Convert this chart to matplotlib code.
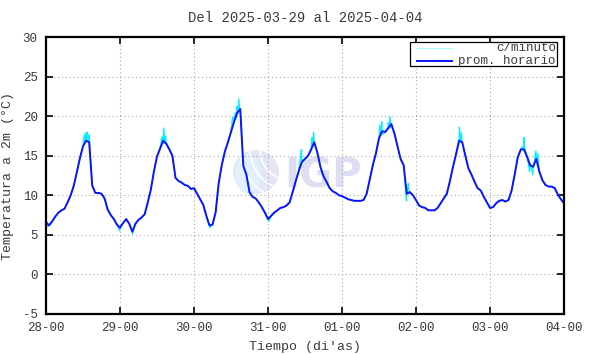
import numpy as np
import matplotlib
matplotlib.use("Agg")
import matplotlib.pyplot as plt
from matplotlib.patches import Rectangle, Ellipse, Arc

# ---------------- data ----------------
title = "Del 2025-03-29 al 2025-04-04"
xtick_labels = ["28-00", "29-00", "30-00", "31-00", "01-00", "02-00", "03-00", "04-00"]
ytick_values = [-5, 0, 5, 10, 15, 20, 25, 30]

# hourly mean temperature (°C), one list per day (hours 00..23)
day_28 = [6.6, 6.2, 6.7, 7.3, 7.8, 8.1, 8.3, 9.1, 10.0, 11.2, 12.9, 14.7,
          16.2, 16.9, 16.7, 11.2, 10.3, 10.3, 10.2, 9.6, 8.2, 7.5, 7.0, 6.3]
day_29 = [5.9, 6.5, 7.0, 6.4, 5.4, 6.4, 6.9, 7.2, 7.6, 9.1, 10.7, 13.0,
          14.9, 15.9, 16.9, 16.5, 15.8, 15.0, 12.2, 11.8, 11.6, 11.3, 11.2, 10.8]
day_30 = [10.9, 10.2, 9.5, 8.8, 7.4, 6.2, 6.3, 7.8, 11.5, 13.8, 15.5, 16.7,
          18.0, 19.3, 20.4, 20.9, 13.7, 12.6, 10.4, 9.8, 9.6, 9.1, 8.5, 7.8]
day_31 = [7.0, 7.4, 7.8, 8.1, 8.4, 8.5, 8.7, 9.1, 10.4, 11.8, 13.1, 14.2,
          14.6, 15.0, 15.8, 16.7, 15.4, 13.6, 12.4, 11.7, 10.9, 10.5, 10.3, 10.0]
day_01 = [9.9, 9.7, 9.5, 9.4, 9.3, 9.3, 9.3, 9.4, 10.2, 12.0, 13.8, 15.3,
          17.2, 18.1, 18.0, 18.5, 19.0, 17.8, 16.2, 14.6, 13.8, 10.2, 10.4, 10.0]
day_02 = [9.4, 8.7, 8.5, 8.4, 8.1, 8.1, 8.1, 8.4, 9.0, 9.6, 10.2, 11.8,
          13.6, 15.2, 16.9, 16.7, 15.0, 13.4, 12.6, 11.7, 10.9, 10.6, 9.8, 9.1]
day_03 = [8.4, 8.5, 9.0, 9.3, 9.4, 9.2, 9.4, 10.6, 12.6, 14.8, 15.8, 15.8,
          14.9, 13.8, 13.6, 14.6, 13.0, 11.9, 11.3, 11.1, 11.1, 10.9, 10.1, 9.5]
end_value = [9.0]  # 04-00

# per-minute excursions visible around the hourly curve (hour, °C)
spike_hours = [0.1, 0.3, 12.4, 12.6, 12.9, 13.1, 13.4, 13.7, 14.0, 23.9, 28.0,
               37.6, 37.9, 38.2, 38.5, 38.8, 39.1, 53.2, 60.5, 61.3, 61.6, 61.9,
               62.2, 62.5, 62.8, 72.3, 82.8, 83.1, 86.2, 86.5, 86.8, 87.1,
               108.3, 108.6, 108.9, 109.2, 111.0, 111.3, 111.6, 111.9,
               116.9, 117.2, 117.5, 117.8, 133.8, 134.1, 134.4, 134.7, 135.0,
               154.7, 155.0, 155.3, 156.5, 156.8, 157.1, 157.9, 158.2,
               158.9, 159.2, 159.5]
spike_values = [6.9, 6.0, 17.6, 16.4, 17.9, 16.8, 18.0, 16.9, 17.6, 5.5, 5.1,
                17.4, 16.5, 18.5, 16.9, 17.5, 16.6, 5.9, 19.9, 20.4, 19.6, 21.2,
                20.3, 22.2, 20.8, 6.7, 15.8, 14.4, 17.3, 16.4, 18.0, 16.5,
                18.9, 17.6, 19.3, 17.7, 19.2, 18.4, 19.9, 18.6,
                9.3, 10.6, 11.5, 10.2, 17.0, 18.6, 16.8, 17.9, 16.6,
                16.2, 17.3, 15.9, 13.9, 13.0, 14.0, 12.6, 13.8,
                15.6, 14.4, 15.3]

# ---------------- build series ----------------
hourly = np.array(day_28 + day_29 + day_30 + day_31 + day_01 + day_02 + day_03 + end_value)
hours = np.arange(len(hourly))
mt = np.concatenate([hours, spike_hours])
mv = np.concatenate([hourly, spike_values])
order = np.argsort(mt, kind="stable")
minute_t, minute_v = mt[order], mv[order]

# ---------------- figure ----------------
W, H = 590, 354
fig = plt.figure(figsize=(W / 100, H / 100), dpi=100)
fig.patch.set_facecolor("white")
L, R, T, B = 46, 564, 37, 314
ax = fig.add_axes([L / W, (H - B) / H, (R - L) / W, (B - T) / H])

mono = "Liberation Mono"
txtc = "#3a3a3a"

# watermark (IGP logo), drawn inside the axes below the data
def fx(px):
    return px / W
def fy(py):
    return 1 - py / H
ax.add_patch(Ellipse((fx(256), fy(172)), 46 / W, 44 / H, transform=fig.transFigure,
                     facecolor="#e3e6f7", edgecolor="none", zorder=0.2))
ax.add_patch(Ellipse((fx(248), fy(174)), 26 / W, 40 / H, transform=fig.transFigure,
                     facecolor="#e2f0fd", edgecolor="none", zorder=0.3))
for r in (30, 40, 50):
    ax.add_patch(Arc((fx(290), fy(150)), r * 2 / W, r * 2 / H, theta1=180, theta2=260,
                     transform=fig.transFigure, color="white", lw=1.2, zorder=0.4))
ax.text(fx(323), fy(176), "IGP", fontsize=29, fontweight="bold", family="DejaVu Sans",
        color="#dedef3", ha="center", va="center", zorder=0.4, transform=fig.transFigure)

# grid
ax.grid(True, color="#a8a8a8", linestyle=(0, (1, 2.5)), linewidth=0.8, zorder=0.1)
ax.set_axisbelow(True)

# series
ax.plot(minute_t, minute_v, color="#00f0ff", lw=0.9, zorder=2, label="c/minuto")
ax.plot(hours, hourly, color="#0a14ff", lw=1.4, zorder=3, label="prom. horario")

# axes
ax.set_xlim(0, 168)
ax.set_ylim(-5, 30)
ax.set_xticks(np.arange(0, 169, 24))
ax.set_xticklabels(xtick_labels)
ax.set_yticks(ytick_values)
ax.set_yticklabels([str(v) for v in ytick_values])
ax.tick_params(direction="in", length=5, width=1.2, top=True, right=True,
               labelsize=9, labelcolor=txtc, pad=6)
for lab in ax.get_xticklabels() + ax.get_yticklabels():
    lab.set_family(mono)
for sp in ax.spines.values():
    sp.set_linewidth(1.6)
    sp.set_color("black")
    sp.set_zorder(7)

ax.set_title(title, family=mono, fontsize=10, color=txtc, pad=11)
ax.set_xlabel("Tiempo (di'as)", family=mono, fontsize=9.5, color=txtc, labelpad=4.5)
ax.set_ylabel("Temperatura a 2m (°C)", family=mono, fontsize=9.5, color=txtc, labelpad=6)

# legend (gnuplot style: sample left, text right-justified)
def axx(px):
    return (px - L) / (R - L)
def axy(py):
    return (B - py) / (B - T)
ax.add_patch(Rectangle((axx(409.5), axy(66)), axx(556.7) - axx(409.5), axy(41.5) - axy(66),
                       transform=ax.transAxes, facecolor="white", edgecolor="black",
                       lw=0.9, zorder=5))
ax.plot([axx(417), axx(452)], [axy(48), axy(48)], transform=ax.transAxes,
        color="#a8ffff", lw=0.9, zorder=6)
ax.plot([axx(417), axx(452)], [axy(61), axy(61)], transform=ax.transAxes,
        color="#0a14ff", lw=1.4, zorder=6)
ax.text(axx(556), axy(48), "c/minuto", transform=ax.transAxes, ha="right", va="center",
        family=mono, fontsize=9, color=txtc, zorder=6)
ax.text(axx(556), axy(61), "prom. horario", transform=ax.transAxes, ha="right", va="center",
        family=mono, fontsize=9, color=txtc, zorder=6)

fig.savefig("out.png", dpi=100, facecolor="white")
